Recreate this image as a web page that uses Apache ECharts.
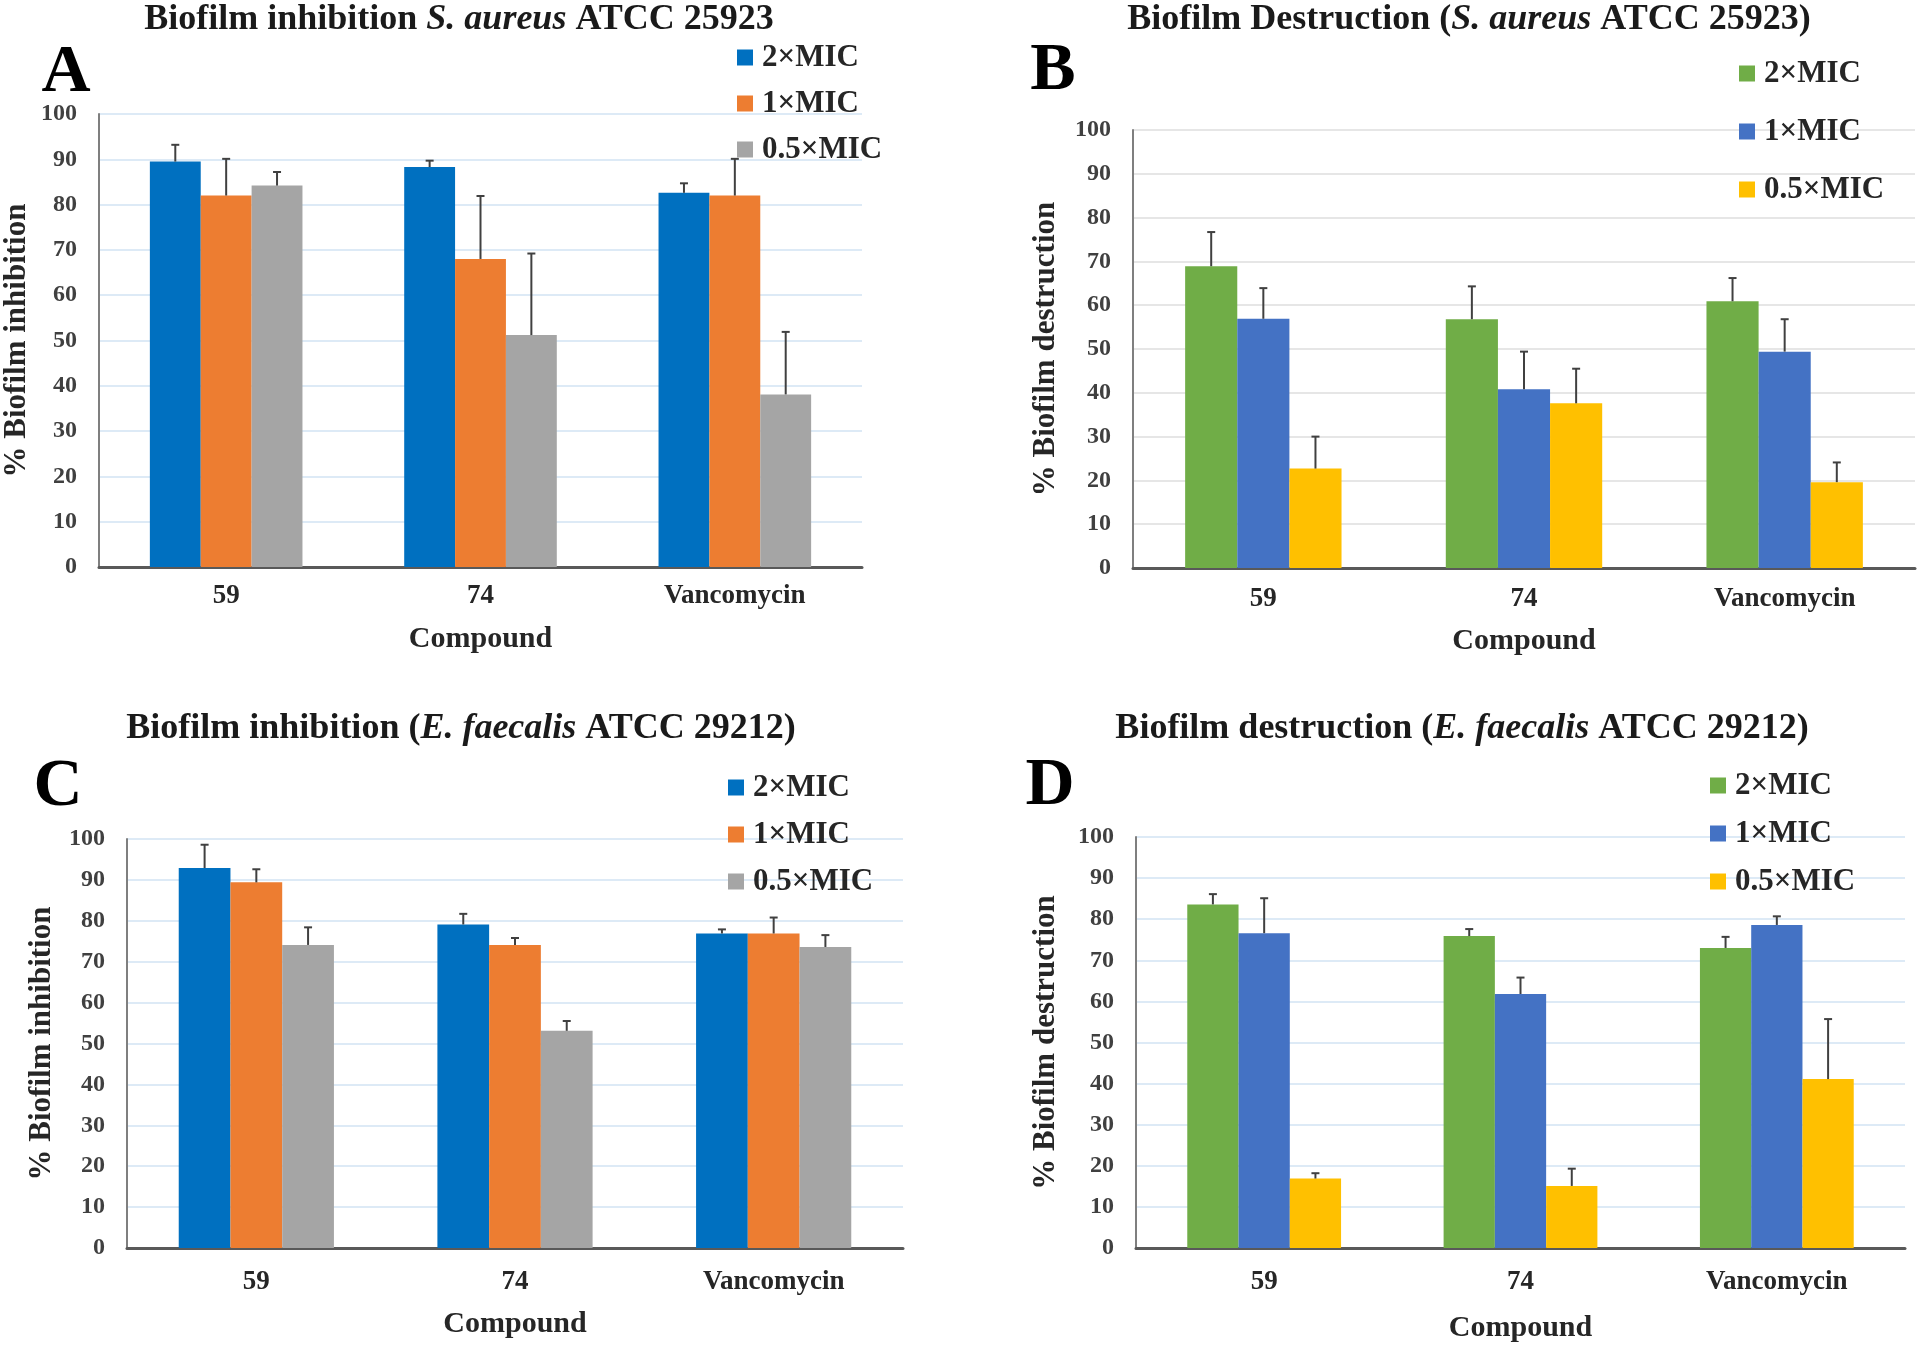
<!DOCTYPE html>
<html>
<head>
<meta charset="utf-8">
<script src="https://cdn.jsdelivr.net/npm/echarts@6/dist/echarts.min.js"></script>
<style>
html,body{margin:0;padding:0;background:#fff;}
#chart{width:1920px;height:1355px;}
</style>
</head>
<body>
<div id="chart"></div>
<script>
// ---------- data ----------
const categories = ['59', '74', 'Vancomycin'];
const seriesNames = ['2×MIC', '1×MIC', '0.5×MIC'];
const yTicks = [0, 10, 20, 30, 40, 50, 60, 70, 80, 90, 100];

// Panel A: Biofilm inhibition S. aureus
const A_2x = [89.5, 88.3, 82.6];
const A_1x = [82.0, 68.0, 82.0];
const A_05x = [84.2, 51.2, 38.1];
const A_2x_err = [3.7, 1.4, 2.1];
const A_1x_err = [8.1, 13.9, 8.1];
const A_05x_err = [3.0, 18.0, 13.8];

// Panel B: Biofilm destruction S. aureus
const B_2x = [68.9, 56.8, 60.9];
const B_1x = [56.9, 40.8, 49.4];
const B_05x = [22.7, 37.6, 19.6];
const B_2x_err = [7.8, 7.5, 5.3];
const B_1x_err = [7.0, 8.6, 7.4];
const B_05x_err = [7.3, 7.9, 4.5];

// Panel C: Biofilm inhibition E. faecalis
const C_2x = [92.9, 79.1, 76.9];
const C_1x = [89.4, 74.1, 76.9];
const C_05x = [74.1, 53.1, 73.6];
const C_2x_err = [5.7, 2.6, 1.0];
const C_1x_err = [3.2, 1.7, 3.9];
const C_05x_err = [4.3, 2.4, 2.9];

// Panel D: Biofilm destruction E. faecalis
const D_2x = [83.6, 75.9, 73.0];
const D_1x = [76.6, 61.8, 78.6];
const D_05x = [16.9, 15.1, 41.1];
const D_2x_err = [2.5, 1.7, 2.7];
const D_1x_err = [8.5, 4.0, 2.1];
const D_05x_err = [1.3, 4.2, 14.6];

// ---------- styling ----------
const FONT = '"Liberation Serif", "Times New Roman", serif';
const colorsAC = ['#0070C0', '#ED7D31', '#A5A5A5'];
const colorsBD = ['#70AD47', '#4472C4', '#FFC000'];

const panels = [
  { id: 'A', vals: [A_2x, A_1x, A_05x], errs: [A_2x_err, A_1x_err, A_05x_err], colors: colorsAC,
    grid: { left: 99, top: 114, width: 763, height: 453 }, yName: '% Biofilm inhibition', yNameGap: 67,
    xLabelMargin: 16, xNameGap: 57, split: '#DDEAF6',
    legend: { left: 737, top: 42, gap: 15 } },
  { id: 'B', vals: [B_2x, B_1x, B_05x], errs: [B_2x_err, B_1x_err, B_05x_err], colors: colorsBD,
    grid: { left: 1133, top: 130, width: 782, height: 438 }, yName: '% Biofilm destruction', yNameGap: 72,
    xLabelMargin: 18, xNameGap: 58, split: '#E6E6E6',
    legend: { left: 1739, top: 58, gap: 27 } },
  { id: 'C', vals: [C_2x, C_1x, C_05x], errs: [C_2x_err, C_1x_err, C_05x_err], colors: colorsAC,
    grid: { left: 127, top: 839, width: 776, height: 409 }, yName: '% Biofilm inhibition', yNameGap: 70,
    xLabelMargin: 21, xNameGap: 61, split: '#DDEAF6',
    legend: { left: 728, top: 772, gap: 16 } },
  { id: 'D', vals: [D_2x, D_1x, D_05x], errs: [D_2x_err, D_1x_err, D_05x_err], colors: colorsBD,
    grid: { left: 1136, top: 837, width: 769, height: 411 }, yName: '% Biofilm destruction', yNameGap: 75,
    xLabelMargin: 21, xNameGap: 65, split: '#DDEAF6',
    legend: { left: 1710, top: 770, gap: 17 } }
];

const titleRich = {
  b: { fontFamily: FONT, fontWeight: 'bold', fontSize: 36, color: '#1a1a1a' },
  i: { fontFamily: FONT, fontWeight: 'bold', fontStyle: 'italic', fontSize: 36, color: '#1a1a1a' }
};
const titles = [
  { text: '{b|Biofilm inhibition }{i|S. aureus}{b| ATCC 25923}', x: 459, top: 0 },
  { text: '{b|Biofilm Destruction (}{i|S. aureus}{b| ATCC 25923)}', x: 1469, top: 0 },
  { text: '{b|Biofilm inhibition (}{i|E. faecalis}{b| ATCC 29212)}', x: 461, top: 709 },
  { text: '{b|Biofilm destruction (}{i|E. faecalis}{b| ATCC 29212)}', x: 1462, top: 709 }
];
const letters = [
  { text: 'A', x: 66, top: 39 },
  { text: 'B', x: 1053, top: 37 },
  { text: 'C', x: 58, top: 753 },
  { text: 'D', x: 1050, top: 752 }
];

const option = { animation: false, backgroundColor: '#fff', title: [], grid: [], xAxis: [], yAxis: [], legend: [], series: [] };

titles.forEach(t => option.title.push({
  text: t.text, left: t.x, top: t.top, textAlign: 'center', padding: 0,
  textStyle: { rich: titleRich, lineHeight: 40 }
}));
letters.forEach(l => option.title.push({
  text: l.text, left: l.x, top: l.top, textAlign: 'center', padding: 0,
  textStyle: { fontFamily: FONT, fontWeight: 'bold', fontSize: 68, lineHeight: 68, color: '#000' }
}));

panels.forEach((p, pi) => {
  option.grid.push(Object.assign({ containLabel: false }, p.grid));
  option.xAxis.push({
    type: 'category', gridIndex: pi, data: categories,
    name: 'Compound', nameLocation: 'middle', nameGap: p.xNameGap,
    nameTextStyle: { fontFamily: FONT, fontWeight: 'bold', fontSize: 30, color: '#262626' },
    axisLine: { lineStyle: { color: '#595959', width: 3 } },
    axisTick: { show: false },
    axisLabel: { margin: p.xLabelMargin, fontFamily: FONT, fontWeight: 'bold', fontSize: 27, color: '#262626' }
  });
  option.yAxis.push({
    type: 'value', gridIndex: pi, min: yTicks[0], max: yTicks[yTicks.length - 1], interval: yTicks[1] - yTicks[0],
    name: p.yName, nameLocation: 'middle', nameGap: p.yNameGap, nameRotate: 90,
    nameTextStyle: { fontFamily: FONT, fontWeight: 'bold', fontSize: 31, color: '#262626' },
    axisLine: { show: true, lineStyle: { color: '#7f7f7f', width: 2 } },
    axisTick: { show: false },
    axisLabel: { margin: 22, fontFamily: FONT, fontWeight: 'bold', fontSize: 24, color: '#404040' },
    splitLine: { show: true, lineStyle: { color: p.split, width: 2 } }
  });
  option.legend.push({
    orient: 'vertical', left: p.legend.left, top: p.legend.top, padding: 0,
    itemGap: p.legend.gap, itemWidth: 16, itemHeight: 16, icon: 'rect',
    selectedMode: false,
    data: seriesNames.map(n => p.id + '|' + n),
    formatter: n => n.split('|')[1],
    textStyle: { fontFamily: FONT, fontWeight: 'bold', fontSize: 31, lineHeight: 30, color: '#262626', padding: [0, 0, 0, 4] }
  });
  seriesNames.forEach((n, k) => {
    option.series.push({
      name: p.id + '|' + n, type: 'bar', xAxisIndex: pi, yAxisIndex: pi,
      data: p.vals[k], barGap: '0%', barCategoryGap: '40%',
      itemStyle: { color: p.colors[k] }
    });
  });
  seriesNames.forEach((n, k) => {
    const vals = p.vals[k], errs = p.errs[k];
    option.series.push({
      type: 'custom', xAxisIndex: pi, yAxisIndex: pi, z: 10, silent: true,
      data: vals.map((v, i) => [i, v, v + errs[i]]),
      encode: { x: 0, y: [1, 2] },
      renderItem: (params, api) => {
        const c = api.value(0);
        const bw = api.size([1, 0])[0];
        const off = (k - 1) * bw * 0.2;
        const p1 = api.coord([c, api.value(1)]);
        const p2 = api.coord([c, api.value(2)]);
        const x = p1[0] + off;
        return {
          type: 'group', children: [
            { type: 'line', shape: { x1: x, y1: p1[1], x2: x, y2: p2[1] }, style: { stroke: '#404040', lineWidth: 2 } },
            { type: 'line', shape: { x1: x - 4, y1: p2[1], x2: x + 4, y2: p2[1] }, style: { stroke: '#404040', lineWidth: 2 } }
          ]
        };
      }
    });
  });
});

const chart = echarts.init(document.getElementById('chart'), null, { renderer: 'canvas' });
chart.setOption(option);
</script>
</body>
</html>
